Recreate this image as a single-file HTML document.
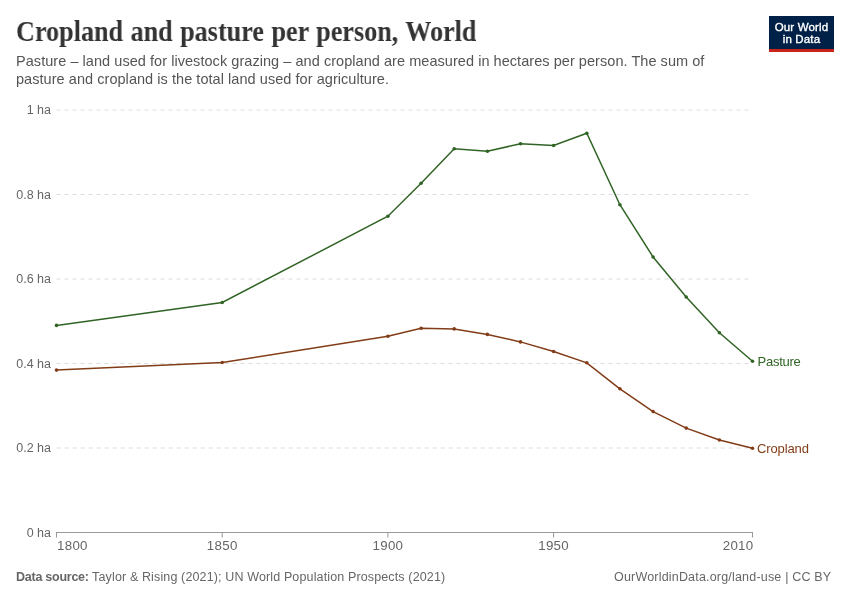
<!DOCTYPE html>
<html><head><meta charset="utf-8">
<style>
html,body{margin:0;padding:0;background:#fff;}
body{width:850px;height:600px;position:relative;overflow:hidden;font-family:"Liberation Sans",sans-serif;}
.t{position:absolute;white-space:nowrap;will-change:transform;}
svg{will-change:transform;}
#logo{will-change:transform;}
#title{left:16px;top:15px;font-family:"Liberation Serif",serif;font-weight:bold;font-size:29px;letter-spacing:0px;word-spacing:1px;color:#333;transform-origin:0 0;transform:scaleX(0.902);}
#sub{left:16px;top:52px;font-size:14.5px;letter-spacing:0.05px;line-height:18px;color:#555;}
#logo{position:absolute;left:769px;top:16px;width:65px;height:36px;background:#002147;}
#logo .bar{position:absolute;left:0;bottom:0;width:100%;height:3px;background:#c8241c;}
#logo .txt{position:absolute;left:0;top:4.5px;width:100%;text-align:center;color:#fff;font-weight:normal;-webkit-text-stroke:0.35px #fff;font-size:11.5px;line-height:12px;letter-spacing:0.15px;}
.ax{font-size:12.5px;color:#666;}
#src{left:16px;top:569.5px;font-size:12.5px;line-height:15px;color:#666;letter-spacing:0.135px;}
#src b{letter-spacing:-0.25px;}
#url{left:614px;top:569.5px;font-size:12.5px;line-height:15px;color:#666;letter-spacing:0.19px;}
</style></head><body>
<div class="t" id="title">Cropland and pasture per person, World</div>
<div class="t" id="sub">Pasture – land used for livestock grazing – and cropland are measured in hectares per person. The sum of<br>pasture and cropland is the total land used for agriculture.</div>
<div id="logo"><div class="txt">Our World<br>in Data</div><div class="bar"></div></div>
<svg width="850" height="600" style="position:absolute;left:0;top:0">
<line x1="56.5" x2="752.5" y1="448.0" y2="448.0" stroke="#ddd" stroke-dasharray="4,4"/><line x1="56.5" x2="752.5" y1="363.5" y2="363.5" stroke="#ddd" stroke-dasharray="4,4"/><line x1="56.5" x2="752.5" y1="279.0" y2="279.0" stroke="#ddd" stroke-dasharray="4,4"/><line x1="56.5" x2="752.5" y1="194.5" y2="194.5" stroke="#ddd" stroke-dasharray="4,4"/><line x1="56.5" x2="752.5" y1="110.0" y2="110.0" stroke="#ddd" stroke-dasharray="4,4"/>
<line x1="56" x2="753" y1="532.5" y2="532.5" stroke="#999" stroke-width="1"/>
<line x1="56.5" x2="56.5" y1="532" y2="537.5" stroke="#999"/>
<line x1="222.2" x2="222.2" y1="532" y2="537.5" stroke="#999"/>
<line x1="387.9" x2="387.9" y1="532" y2="537.5" stroke="#999"/>
<line x1="553.6" x2="553.6" y1="532" y2="537.5" stroke="#999"/>
<line x1="752.5" x2="752.5" y1="532" y2="537.5" stroke="#999"/>
<polyline points="56.5,325.4 222.2,302.5 387.9,216.2 421.1,183.3 454.2,148.7 487.4,151.3 520.5,143.7 553.6,145.5 586.8,133.3 619.9,204.7 653.1,257.0 686.2,297.0 719.4,332.7 752.5,361.2" fill="none" stroke="#306425" stroke-width="1.5"/>
<polyline points="56.5,370.1 222.2,362.5 387.9,336.2 421.1,328.3 454.2,328.9 487.4,334.4 520.5,341.9 553.6,351.5 586.8,362.8 619.9,388.8 653.1,411.6 686.2,428.1 719.4,440.0 752.5,448.3" fill="none" stroke="#823c17" stroke-width="1.5"/>
<circle cx="56.5" cy="325.4" r="1.8" fill="#306425"/><circle cx="222.2" cy="302.5" r="1.8" fill="#306425"/><circle cx="387.9" cy="216.2" r="1.8" fill="#306425"/><circle cx="421.1" cy="183.3" r="1.8" fill="#306425"/><circle cx="454.2" cy="148.7" r="1.8" fill="#306425"/><circle cx="487.4" cy="151.3" r="1.8" fill="#306425"/><circle cx="520.5" cy="143.7" r="1.8" fill="#306425"/><circle cx="553.6" cy="145.5" r="1.8" fill="#306425"/><circle cx="586.8" cy="133.3" r="1.8" fill="#306425"/><circle cx="619.9" cy="204.7" r="1.8" fill="#306425"/><circle cx="653.1" cy="257.0" r="1.8" fill="#306425"/><circle cx="686.2" cy="297.0" r="1.8" fill="#306425"/><circle cx="719.4" cy="332.7" r="1.8" fill="#306425"/><circle cx="752.5" cy="361.2" r="1.8" fill="#306425"/><circle cx="56.5" cy="370.1" r="1.8" fill="#823c17"/><circle cx="222.2" cy="362.5" r="1.8" fill="#823c17"/><circle cx="387.9" cy="336.2" r="1.8" fill="#823c17"/><circle cx="421.1" cy="328.3" r="1.8" fill="#823c17"/><circle cx="454.2" cy="328.9" r="1.8" fill="#823c17"/><circle cx="487.4" cy="334.4" r="1.8" fill="#823c17"/><circle cx="520.5" cy="341.9" r="1.8" fill="#823c17"/><circle cx="553.6" cy="351.5" r="1.8" fill="#823c17"/><circle cx="586.8" cy="362.8" r="1.8" fill="#823c17"/><circle cx="619.9" cy="388.8" r="1.8" fill="#823c17"/><circle cx="653.1" cy="411.6" r="1.8" fill="#823c17"/><circle cx="686.2" cy="428.1" r="1.8" fill="#823c17"/><circle cx="719.4" cy="440.0" r="1.8" fill="#823c17"/><circle cx="752.5" cy="448.3" r="1.8" fill="#823c17"/>
<g font-family="Liberation Sans" font-size="12.5" fill="#666">
<text x="51" y="114" text-anchor="end">1 ha</text>
<text x="51" y="198.5" text-anchor="end">0.8 ha</text>
<text x="51" y="283" text-anchor="end">0.6 ha</text>
<text x="51" y="367.5" text-anchor="end">0.4 ha</text>
<text x="51" y="452" text-anchor="end">0.2 ha</text>
<text x="51" y="536.5" text-anchor="end">0 ha</text>
<text x="57" y="550.1" font-size="13.3" letter-spacing="0.3">1800</text>
<text x="222.2" y="550.1" text-anchor="middle" font-size="13.3" letter-spacing="0.3">1850</text>
<text x="387.9" y="550.1" text-anchor="middle" font-size="13.3" letter-spacing="0.3">1900</text>
<text x="553.6" y="550.1" text-anchor="middle" font-size="13.3" letter-spacing="0.3">1950</text>
<text x="753.5" y="550.1" text-anchor="end" font-size="13.3" letter-spacing="0.3">2010</text>
</g>
<text x="757.5" y="366.3" font-family="Liberation Sans" font-size="13" letter-spacing="-0.25" fill="#306425">Pasture</text>
<text x="757" y="452.6" font-family="Liberation Sans" font-size="13" letter-spacing="-0.12" fill="#823c17">Cropland</text>
</svg>
<div class="t" id="src"><b>Data source:</b> Taylor &amp; Rising (2021); UN World Population Prospects (2021)</div>
<div class="t" id="url">OurWorldinData.org/land-use | CC BY</div>
</body></html>
